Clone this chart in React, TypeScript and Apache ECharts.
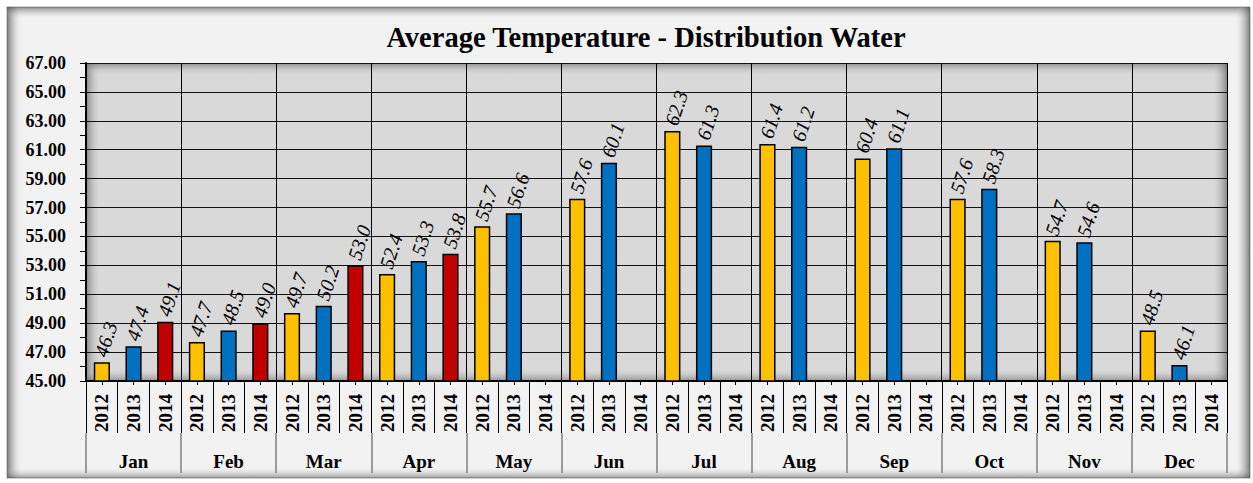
import React, { useEffect, useRef } from "react";
import * as echarts from "echarts";

// Monthly average distribution-water temperature, by year
const months = ["Jan", "Feb", "Mar", "Apr", "May", "Jun", "Jul", "Aug", "Sep", "Oct", "Nov", "Dec"];
const years = ["2012", "2013", "2014"];
const temps2012 = [46.3, 47.7, 49.7, 52.4, 55.7, 57.6, 62.3, 61.4, 60.4, 57.6, 54.7, 48.5];
const temps2013 = [47.4, 48.5, 50.2, 53.3, 56.6, 60.1, 61.3, 61.2, 61.1, 58.3, 54.6, 46.1];
const temps2014 = [49.1, 49.0, 53.0, 53.8, null, null, null, null, null, null, null, null];
const yAxisTicks = { min: 45, max: 67, step: 2 };

const yearColors = ["#ffc000", "#0070c0", "#c00000"];
const FONT = "'Liberation Serif', 'Times New Roman', serif";

const yearCategories = months.flatMap(() => years);
const barData = months.flatMap((_, i) =>
  [temps2012[i], temps2013[i], temps2014[i]].map((v, j) => ({
    value: v,
    itemStyle: { color: yearColors[j] },
  }))
);

function edge(x: number, y: number, w: number, h: number, dir: "l" | "r" | "t" | "b", dark: string, z: number) {
  const g =
    dir === "l" ? [0, 0, 1, 0] : dir === "r" ? [1, 0, 0, 0] : dir === "t" ? [0, 0, 0, 1] : [0, 1, 0, 0];
  return {
    type: "rect",
    silent: true,
    z,
    shape: { x, y, width: w, height: h },
    style: {
      fill: new echarts.graphic.LinearGradient(g[0], g[1], g[2], g[3], [
        { offset: 0, color: dark },
        { offset: 1, color: "rgba(200,200,200,0)" },
      ]),
    },
  };
}

export default function App() {
  const ref = useRef<HTMLDivElement>(null);

  useEffect(() => {
    if (!ref.current) return;
    const chart = echarts.init(ref.current, undefined, { renderer: "svg" });
    const gl = 86, gt = 63, gw = 1141, gh = 318;

    chart.setOption({
      animation: false,
      title: {
        text: "Average Temperature - Distribution Water",
        left: 641,
        textAlign: "center",
        top: 18,
        textStyle: { fontFamily: FONT, fontWeight: "bold", fontSize: 28.5, color: "#000" },
      },
      graphic: {
        elements: [
          {
            type: "rect",
            silent: true,
            z: -100,
            shape: { x: 7, y: 7, width: 1243, height: 471 },
            style: { fill: "#f2f2f2", stroke: "#a0a0a0", lineWidth: 1 },
          },
          edge(7, 7, 14, 471, "l", "rgba(70,70,70,0.7)", -99),
          edge(7, 7, 1243, 11, "t", "rgba(70,70,70,0.6)", -99),
          edge(1236, 7, 14, 471, "r", "rgba(70,70,70,0.7)", -99),
          edge(7, 468, 1243, 10, "b", "rgba(70,70,70,0.5)", -99),
          {
            type: "rect",
            silent: true,
            z: -90,
            shape: { x: gl, y: gt, width: gw, height: gh },
            style: { fill: "#d9d9d9" },
          },
          edge(gl, gt, 14, gh, "l", "rgba(90,90,90,0.65)", -89),
          edge(gl, gt, gw, 12, "t", "rgba(90,90,90,0.6)", -89),
          edge(gl + gw - 14, gt, 14, gh, "r", "rgba(90,90,90,0.65)", -89),
          edge(gl, gt + gh - 12, gw, 12, "b", "rgba(90,90,90,0.55)", -89),
        ],
      },
      grid: { left: gl, top: gt, width: gw, height: gh, containLabel: false },
      xAxis: [
        {
          type: "category",
          data: yearCategories,
          position: "bottom",
          axisLine: { show: true, lineStyle: { color: "#000", width: 2 } },
          axisTick: { show: true, interval: 0, length: 52, lineStyle: { color: "#000", width: 1 } },
          axisLabel: {
            interval: 0,
            rotate: 90,
            margin: 13,
            fontFamily: FONT,
            fontWeight: "bold",
            fontSize: 19,
            color: "#000",
          },
          splitLine: { show: false },
        },
        {
          type: "category",
          data: months,
          position: "bottom",
          offset: 52,
          axisLine: { show: false },
          axisTick: { show: true, interval: 0, length: 40, lineStyle: { color: "#7f7f7f", width: 1.5 } },
          axisLabel: {
            interval: 0,
            margin: 19,
            fontFamily: FONT,
            fontWeight: "bold",
            fontSize: 19,
            color: "#000",
          },
          splitLine: { show: true, interval: 0, lineStyle: { color: "#000", width: 1 } },
        },
        {
          type: "category",
          data: yearCategories,
          position: "bottom",
          axisLine: { show: false },
          axisTick: { show: true, interval: 0, alignWithLabel: true, length: 4, lineStyle: { color: "#000" } },
          axisLabel: { show: false },
          splitLine: { show: false },
        },
      ],
      yAxis: {
        type: "value",
        min: yAxisTicks.min,
        max: yAxisTicks.max,
        interval: yAxisTicks.step,
        axisLine: { show: true, lineStyle: { color: "#000", width: 2 } },
        axisTick: { show: true, length: 6, lineStyle: { color: "#000" } },
        minorTick: { show: true, splitNumber: 2, length: 6, lineStyle: { color: "#000" } },
        axisLabel: {
          margin: 20,
          formatter: (v: number) => v.toFixed(2),
          fontFamily: FONT,
          fontWeight: "bold",
          fontSize: 18,
          color: "#000",
        },
        splitLine: { show: true, lineStyle: { color: "#111", width: 1 } },
      },
      series: [
        {
          type: "bar",
          xAxisIndex: 0,
          data: barData,
          barWidth: "51%",
          itemStyle: { borderColor: "#000", borderWidth: 1.5 },
          label: {
            show: true,
            position: "top",
            rotate: 72,
            align: "left",
            verticalAlign: "middle",
            distance: 11,
            offset: [-5, 0],
            fontFamily: FONT,
            fontStyle: "italic",
            fontSize: 20,
            color: "#000",
            formatter: (p: any) => (p.value == null ? "" : Number(p.value).toFixed(1)),
          },
        },
      ],
    });

    return () => chart.dispose();
  }, []);

  return (
    <div
      ref={ref}
      style={{ position: "absolute", left: 0, top: 0, width: 1253, height: 483, background: "#fff" }}
    />
  );
}
